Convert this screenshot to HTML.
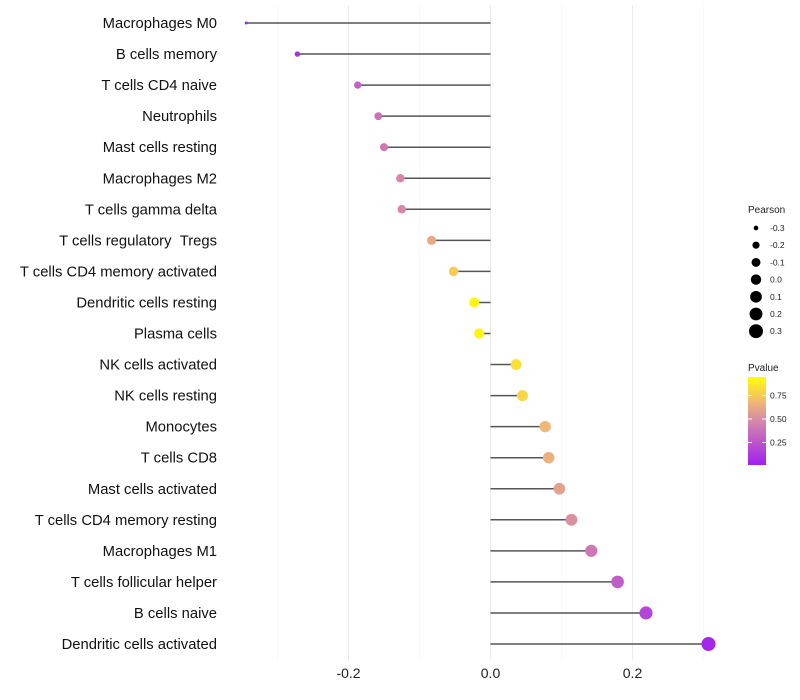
<!DOCTYPE html>
<html><head><meta charset="utf-8"><style>
body{margin:0;background:#fff;}
svg{display:block;font-family:"Liberation Sans",Arial,sans-serif;}
</style></head><body>
<svg id="chart" width="800" height="700"></svg>
<script>
const categories=["Macrophages M0","B cells memory","T cells CD4 naive","Neutrophils","Mast cells resting","Macrophages M2","T cells gamma delta","T cells regulatory \u00a0Tregs","T cells CD4 memory activated","Dendritic cells resting","Plasma cells","NK cells activated","NK cells resting","Monocytes","T cells CD8","Mast cells activated","T cells CD4 memory resting","Macrophages M1","T cells follicular helper","B cells naive","Dendritic cells activated"];
const pearson=[-0.344,-0.272,-0.187,-0.158,-0.150,-0.127,-0.125,-0.083,-0.052,-0.023,-0.016,0.036,0.045,0.077,0.082,0.097,0.114,0.142,0.179,0.219,0.307];
const pvalues=[0.02,0.08,0.32,0.40,0.42,0.50,0.50,0.65,0.80,0.97,0.97,0.88,0.84,0.72,0.68,0.62,0.55,0.42,0.30,0.18,0.04];
const xTicks=[-0.2,0.0,0.2];
const xGrid=[-0.3,-0.2,-0.1,0,0.1,0.2,0.3];
const sizeLegend=[-0.3,-0.2,-0.1,0.0,0.1,0.2,0.3];
const pLegendTicks=[0.25,0.50,0.75];

const NS="http://www.w3.org/2000/svg";
const svg=document.getElementById('chart');
function mk(t,a,p){const e=document.createElementNS(NS,t);for(const k in a)e.setAttribute(k,a[k]);(p||svg).appendChild(e);return e;}
const x=v=>490.5+v*710;
const y=i=>23+i*31.05;
const r=v=>Math.sqrt(Math.max(1,27+71.8*v));
const stops=[[0,[160,32,240]],[0.5,[214,135,170]],[0.75,[244,190,110]],[1,[255,255,0]]];
function col(p){for(let i=1;i<stops.length;i++){if(p<=stops[i][0]){const a=stops[i-1],b=stops[i];const t=(p-a[0])/(b[0]-a[0]);const c=a[1].map((v,j)=>Math.round(v+(b[1][j]-v)*t));return `rgb(${c})`;}}return 'rgb(255,255,0)';}

xGrid.forEach(v=>{const major=Math.abs(Math.round(v*10))%2===0;const g=mk('line',{x1:x(v),x2:x(v),y1:5,y2:660,stroke:major?'#ebebeb':'#f3f3f3','stroke-width':major?1:0.6});

});
xTicks.forEach(v=>{const t=mk('text',{x:x(v),y:678,'text-anchor':'middle','font-size':14,fill:'#222'});t.textContent=v.toFixed(1);

});
categories.forEach((c,i)=>{
const t=mk('text',{x:217,y:y(i)+5,'text-anchor':'end','font-size':14.8,fill:'#111'});t.textContent=c;


const l=mk('line',{x1:x(0),x2:x(pearson[i]),y1:y(i),y2:y(i),stroke:'#555','stroke-width':1.5});


const d=mk('circle',{cx:x(pearson[i]),cy:y(i),r:r(pearson[i]),fill:col(pvalues[i])});


});
const pt=mk('text',{x:748,y:213,'font-size':10,fill:'#222'});pt.textContent='Pearson';


sizeLegend.forEach((v,i)=>{const yy=228+i*17.2;
const c=mk('circle',{cx:756,cy:yy,r:r(v),fill:'#000'});


const t=mk('text',{x:770,y:yy+3,'font-size':8.5,fill:'#222'});t.textContent=v.toFixed(1);

});
const vt=mk('text',{x:748,y:371,'font-size':10,fill:'#222'});vt.textContent='Pvalue';


const defs=mk('defs',{});const lg=mk('linearGradient',{id:'pg',x1:0,y1:1,x2:0,y2:0},defs);
stops.forEach(s=>mk('stop',{offset:s[0],'stop-color':col(s[0])},lg));
const bar=mk('rect',{x:748,y:377,width:18,height:88,fill:'url(#pg)'});


const py=p=>466-p*94;
pLegendTicks.forEach(p=>{mk('line',{x1:748,x2:752,y1:py(p),y2:py(p),stroke:'#fff'});mk('line',{x1:762,x2:766,y1:py(p),y2:py(p),stroke:'#fff'});
const t=mk('text',{x:770,y:py(p)+3,'font-size':8.5,fill:'#222'});t.textContent=p.toFixed(2);

});
</script>
</body></html>
